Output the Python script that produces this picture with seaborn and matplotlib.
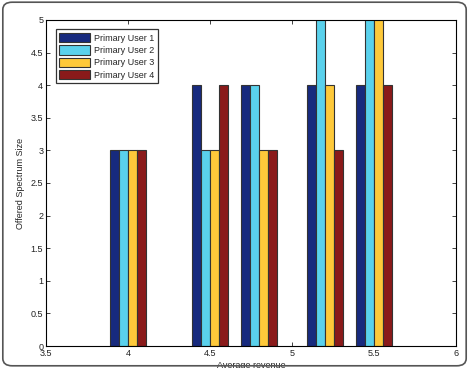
import matplotlib
matplotlib.use("Agg")
import matplotlib.pyplot as plt
import seaborn as sns
import pandas as pd
from matplotlib.patches import FancyBboxPatch

revenue = [4.0, 4.5, 4.8, 5.2, 5.5]
users = ["Primary User 1", "Primary User 2", "Primary User 3", "Primary User 4"]
user1 = [3, 4, 4, 4, 4]
user2 = [3, 3, 4, 6, 6]
user3 = [3, 3, 3, 4, 6]
user4 = [3, 4, 3, 3, 4]
colors = ["#172a7e", "#5ad1ec", "#fec93a", "#8a1a1a"]

rows = []
for name, vals in zip(users, [user1, user2, user3, user4]):
    for x, v in zip(revenue, vals):
        rows.append({"revenue": x, "size": v, "user": name})
df = pd.DataFrame(rows)

sns.set_style("white")
plt.rcParams['font.family'] = ['Liberation Sans', 'DejaVu Sans']

fig = plt.figure(figsize=(4.69, 3.68), dpi=100)
ax = fig.add_axes([46/469, 1-346/368, (456-46)/469, (346-20)/368])

sns.barplot(data=df, x="revenue", y="size", hue="user", native_scale=True,
            palette=colors, width=0.74, edgecolor="#333333", linewidth=0.8,
            saturation=1, ax=ax, errorbar=None)

ax.set_xlim(3.5, 6)
ax.set_ylim(0, 5)
ax.set_xticks([3.5, 4, 4.5, 5, 5.5, 6])
ax.set_xticklabels(["3.5", "4", "4.5", "5", "5.5", "6"])
ax.set_yticks([0, 0.5, 1, 1.5, 2, 2.5, 3, 3.5, 4, 4.5, 5])
ax.set_yticklabels(["0", "0.5", "1", "1.5", "2", "2.5", "3", "3.5", "4", "4.5", "5"])
ax.tick_params(direction="in", length=3, width=0.6, labelsize=6.5, colors="#222222",
               top=True, right=True, bottom=True, left=True, pad=2)
for s in ax.spines.values():
    s.set_color("black")
    s.set_linewidth(0.8)
ax.set_xlabel("Average revenue", fontsize=6.5, labelpad=2)
ax.set_ylabel("Offered Spectrum Size", fontsize=6.5, labelpad=4)

leg = ax.legend(loc="upper left", bbox_to_anchor=(0.013, 0.985), fontsize=6.5,
                frameon=True, fancybox=False, edgecolor="black", handlelength=3.4,
                handleheight=1.2, labelspacing=0.3, borderpad=0.4, handletextpad=0.4)
leg.get_frame().set_linewidth(0.9)

border = FancyBboxPatch((0.006, 0.006), 0.988, 0.988, boxstyle="round,pad=0,rounding_size=0.02",
                        transform=fig.transFigure, fill=False, edgecolor="#555555",
                        linewidth=1.2, clip_on=False)
fig.patches.append(border)

fig.savefig("out.png", dpi=100)
